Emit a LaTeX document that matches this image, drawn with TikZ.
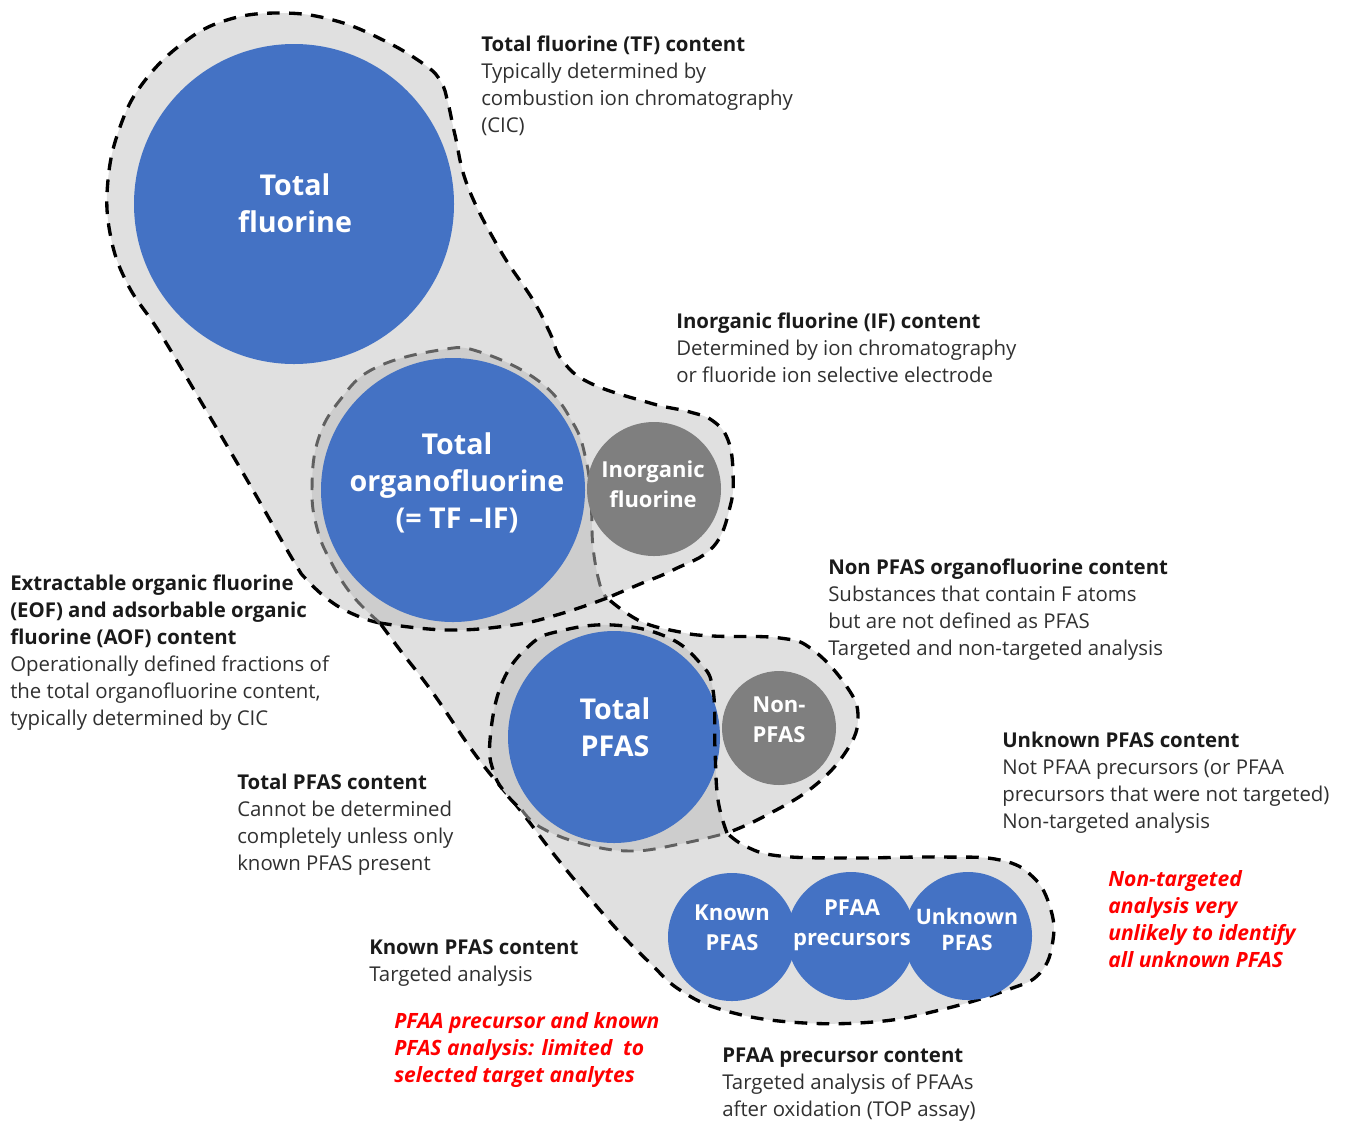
\documentclass[tikz,border=0pt]{standalone}
\usepackage{fontspec}
\setmainfont{Open Sans}
\definecolor{pblue}{HTML}{4472C4}
\definecolor{pgrayc}{HTML}{7F7F7F}
\definecolor{lightf}{HTML}{E0E0E0}
\definecolor{darkf}{HTML}{CDCDCD}
\definecolor{ringg}{HTML}{606060}
\definecolor{txt}{HTML}{303030}
\definecolor{txtb}{HTML}{1A1A1A}
\definecolor{redt}{HTML}{FF0000}
\tikzset{
  dashline/.style={line width=2.5pt, dash pattern=on 9.5pt off 7pt, draw=black},
  ringline/.style={line width=2.2pt, dash pattern=on 9.5pt off 7pt, draw=ringg},
  bluecirc/.style={circle, fill=pblue, inner sep=0pt, outer sep=0pt},
  graycirc/.style={circle, fill=pgrayc, inner sep=0pt, outer sep=0pt},
  biglbl/.style={align=center, text=white, font=\fontsize{21.5}{28}\selectfont\bfseries, inner sep=0pt},
  smlbl/.style={align=center, text=white, font=\fontsize{16.5}{22.5}\selectfont\bfseries, inner sep=0pt},
  desc/.style={anchor=base west, align=left, text=txt, font=\fontsize{15.3}{20.25}\selectfont, inner sep=0pt},
  redtxt/.style={anchor=base west, align=left, text=redt, font=\fontsize{15.8}{20.25}\selectfont\bfseries\itshape, inner sep=0pt},
}
\newcommand{\hd}[1]{{\bfseries\color{txtb}#1}}
\begin{document}
\begin{tikzpicture}[x=0.75pt, y=0.75pt]
\useasboundingbox (0,0) rectangle (1355,-1122);
% outer blob
\path[fill=lightf, dashline]
 plot[smooth, tension=0.7] coordinates {(380,-623) (360,-617) (333,-603) (307,-580) (293,-560) (250,-485) (200,-400) (160,-333) (127,-283) (110,-233) (108,-180) (120,-127) (143,-83) (183,-43) (227,-20) (280,-13) (333,-20) (383,-40) (425,-65) (441,-82) (448,-103) (455,-135) (468,-187) (500,-250) (533,-300) (550,-333) (562,-360) (590,-383) (650,-403) (690,-412) (713,-421) (728,-440) (733,-473) (730,-507) (713,-547) (673,-570) (640,-584) (607,-598)}
 -- plot[smooth, tension=0.7] coordinates {(607,-598) (640,-621) (680,-632) (713,-636) (780,-638) (813,-650) (847,-687) (858,-717) (847,-750) (813,-787) (763,-817) (727,-833)}
 -- plot[smooth, tension=0.7] coordinates {(727,-833) (747,-847) (780,-856) (847,-858) (940,-857) (1000,-860) (1033,-877) (1050,-907) (1053,-940) (1040,-973) (1007,-990) (940,-1010) (873,-1022) (790,-1022) (723,-1010) (680,-990) (650,-963) (613,-925) (560,-862) (520,-810) (477,-757) (433,-693) (400,-650) (380,-623)}
 -- cycle;
% TOF ring
\fill[darkf] plot[smooth, tension=0.7] coordinates {(380,-623) (352,-595) (330,-560) (317,-528) (312,-490) (318,-440) (340,-400) (375,-368) (440,-350) (480,-352) (540,-382) (573,-423) (586,-460) (591,-500) (593,-547) (600,-585) (607,-598)}
 -- plot[smooth, tension=0.7] coordinates {(607,-598) (560,-614) (513,-625) (447,-630) (380,-623)} -- cycle;
\draw[ringline] plot[smooth, tension=0.7] coordinates {(380,-623) (352,-595) (330,-560) (317,-528) (312,-490) (318,-440) (340,-400) (375,-368) (440,-350) (480,-352) (540,-382) (573,-423) (586,-460) (591,-500) (593,-547) (600,-585) (607,-598)};
\draw[dashline] plot[smooth, tension=0.7] coordinates {(607,-598) (560,-614) (513,-625) (447,-630) (380,-623)};
% PFAS ring fill
\fill[darkf] plot[smooth, tension=0.7] coordinates {(727,-833) (718,-800) (715,-750) (713,-690) (700,-663) (667,-637) (613,-625) (560,-631) (530,-645) (502,-683) (490,-740) (494,-773) (507,-795) (522,-810)}
 -- plot[smooth, tension=0.7] coordinates {(522,-810) (540,-827) (580,-843) (630,-851) (680,-844) (727,-833)} -- cycle;
% circles
\node[bluecirc, minimum size=240pt] (tf) at (294,-204) {};
\node[bluecirc, minimum size=198pt] (tof) at (453,-490) {};
\node[graycirc, minimum size=100.5pt] (ifc) at (654,-489) {};
\node[bluecirc, minimum size=159pt] (pfas) at (614,-737) {};
\node[graycirc, minimum size=85.5pt] (nonpfas) at (779,-728) {};
\node[bluecirc, minimum size=96pt] (known) at (732,-937) {};
\node[bluecirc, minimum size=96pt] (prec) at (851,-936) {};
\node[bluecirc, minimum size=96pt] (unk) at (968,-936) {};
% PFAS ring lines
\draw[dashline] plot[smooth, tension=0.7] coordinates {(727,-833) (718,-800) (715,-750) (713,-690) (700,-663) (667,-637) (613,-625) (560,-631) (530,-645) (502,-683) (490,-740) (494,-773) (507,-795) (522,-810)};
\draw[ringline] plot[smooth, tension=0.7] coordinates {(522,-810) (540,-827) (580,-843) (630,-851) (680,-844) (727,-833)};
% circle labels
\node[biglbl] (tfl) at (295,-203) {Total\\fluorine};
\node[biglbl] (tofl) at (457,-483) {Total\\organofluorine\\(= TF –IF)};
\node[smlbl] (ifl) at (653,-484) {Inorganic\\fluorine};
\node[biglbl] (pfasl) at (615,-727) {Total\\PFAS};
\node[smlbl] (npl) at (779,-720) {Non-\\PFAS};
\node[smlbl] (knl) at (732,-928) {Known\\PFAS};
\node[smlbl] (prl) at (852,-925) {PFAA\\precursors};
\node[smlbl, font=\fontsize{16}{19.5}\selectfont\bfseries] (unl) at (967,-929) {Unknown\\PFAS};
% descriptions (anchored at last baseline)
\node[desc] (t1) at (481,-132) {\hd{Total fluorine (TF) content}\\Typically determined by\\combustion ion chromatography\\(CIC)};
\node[desc] (t2) at (676,-382) {\hd{Inorganic fluorine (IF) content}\\Determined by ion chromatography\\or fluoride ion selective electrode};
\node[desc] (t3) at (828,-655) {\hd{Non PFAS organofluorine content}\\Substances that contain F atoms\\but are not defined as PFAS\\Targeted and non-targeted analysis};
\node[desc] (t4) at (10,-725) {\hd{Extractable organic fluorine}\\\hd{(EOF) and adsorbable organic}\\\hd{fluorine (AOF) content}\\Operationally defined fractions of\\the total organofluorine content,\\typically determined by CIC};
\node[desc] (t5) at (1002,-828) {\hd{Unknown PFAS content}\\Not PFAA precursors (or PFAA\\precursors that were not targeted)\\Non-targeted analysis};
\node[desc] (t6) at (237,-870) {\hd{Total PFAS content}\\Cannot be determined\\completely unless only\\known PFAS present};
\node[redtxt] (t7) at (1108,-967) {Non-targeted\\analysis very\\unlikely to identify\\all unknown PFAS};
\node[desc] (t8) at (369,-981) {\hd{Known PFAS content}\\Targeted analysis};
\node[redtxt] (t9) at (394,-1082) {PFAA precursor and known\\PFAS analysis: limited\ \ to\\selected target analytes};
\node[desc] (t10) at (722,-1116) {\hd{PFAA precursor content}\\Targeted analysis of PFAAs\\after oxidation (TOP assay)};
\end{tikzpicture}
\end{document}
